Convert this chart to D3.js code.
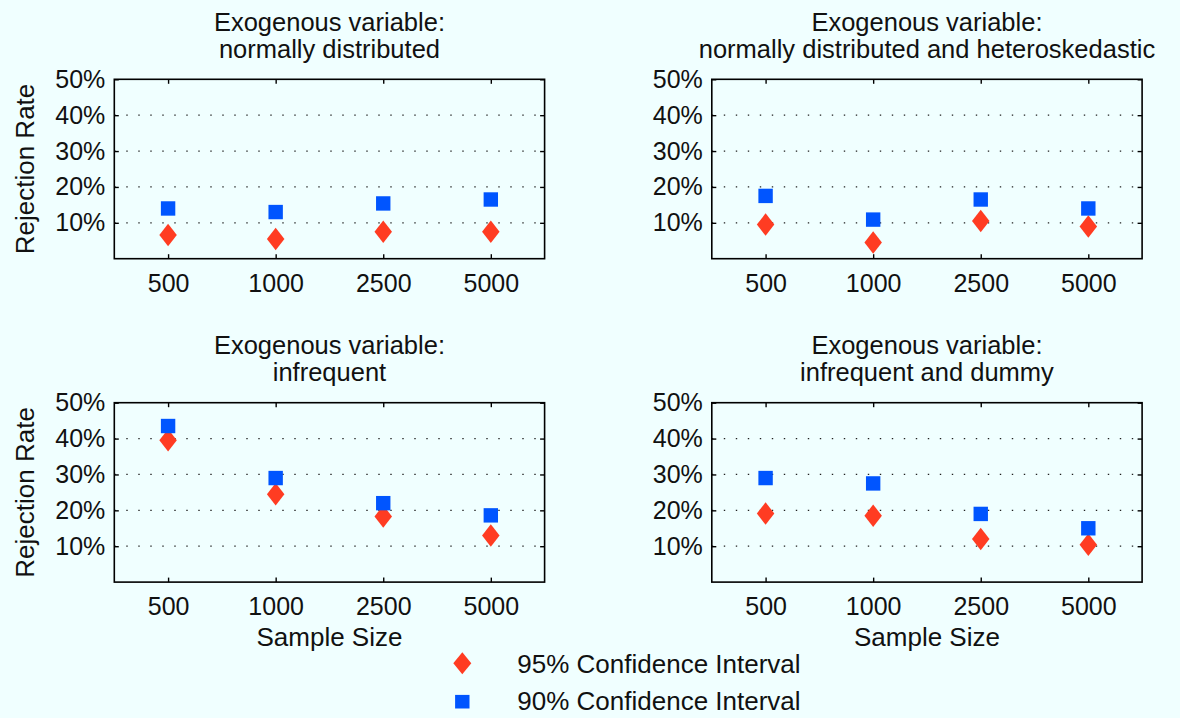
<!DOCTYPE html>
<html>
<head>
<meta charset="utf-8">
<script src="https://cdn.jsdelivr.net/npm/d3@7"></script>
<style>
  html, body { margin: 0; padding: 0; background: #f0ffff; }
  svg { display: block; }
  text { font-family: "Liberation Sans", Arial, Helvetica, sans-serif; fill: #111; }
</style>
</head>
<body>
<svg id="chart" width="1180" height="718"></svg>
<script>
// Sample sizes on the x axis
const sampleSizes = ["500", "1000", "2500", "5000"];
// Y axis ticks (rejection rate)
const rateTicks = [0.1, 0.2, 0.3, 0.4, 0.5];

// Panel titles (two lines each)
const titleLine1 = ["Exogenous variable:", "Exogenous variable:", "Exogenous variable:", "Exogenous variable:"];
const titleLine2 = ["normally distributed", "normally distributed and heteroskedastic", "infrequent", "infrequent and dummy"];

// Rejection rates, 95% confidence interval
const normal95 = [0.066, 0.055, 0.075, 0.075];
const hetero95 = [0.095, 0.045, 0.105, 0.090];
const infreq95 = [0.395, 0.245, 0.183, 0.130];
const dummy95  = [0.191, 0.185, 0.120, 0.104];

// Rejection rates, 90% confidence interval
const normal90 = [0.140, 0.130, 0.154, 0.165];
const hetero90 = [0.175, 0.109, 0.165, 0.140];
const infreq90 = [0.435, 0.290, 0.220, 0.186];
const dummy90  = [0.290, 0.275, 0.190, 0.150];

const legendLabels = ["95% Confidence Interval", "90% Confidence Interval"];

const series95 = [normal95, hetero95, infreq95, dummy95];
const series90 = [normal90, hetero90, infreq90, dummy90];

const RED = "#ff3c22";
const BLUE = "#0055ff";
const TICK_FONT = 25;
const TITLE_FONT = 25.5;
const LABEL_FONT = 26;

const svg = d3.select("#chart");

// Panel layout: 2 x 2
const panelW = 430.3, panelH = 179.4;
const panelX = [114.3, 711.8];
const panelY = [79.3, 402.7];

// Diamond marker (taller than wide) and square marker
function diamondPath(w, h) {
  return `M0,${-h / 2}L${w / 2},0L0,${h / 2}L${-w / 2},0Z`;
}
const DIAMOND = diamondPath(17.5, 22.5);
const SQ = 14.4;

const x = d3.scalePoint().domain(sampleSizes).range([0, panelW]).padding(0.5);
const y = d3.scaleLinear().domain([0, 0.5]).range([panelH, 0]);

for (let p = 0; p < 4; p++) {
  const col = p % 2, row = Math.floor(p / 2);
  const g = svg.append("g")
    .attr("transform", `translate(${panelX[col]},${panelY[row]})`);

  // dotted grid
  g.append("g").selectAll("line")
    .data(rateTicks.filter(d => d < 0.5))
    .join("line")
    .attr("x1", 0).attr("x2", panelW)
    .attr("y1", d => y(d)).attr("y2", d => y(d))
    .attr("stroke", "#222")
    .attr("stroke-width", 1.3)
    .attr("stroke-dasharray", "1.4,10.6");

  // axes with inward ticks
  const left = g.append("g")
    .call(d3.axisLeft(y).tickValues(rateTicks).tickFormat(d3.format(".0%"))
      .tickSize(-4.5).tickPadding(9));
  const right = g.append("g").attr("transform", `translate(${panelW},0)`)
    .call(d3.axisRight(y).tickValues(rateTicks).tickFormat("").tickSize(-4.5));
  const top = g.append("g")
    .call(d3.axisTop(x).tickFormat("").tickSize(-4.5));
  const bottom = g.append("g").attr("transform", `translate(0,${panelH})`)
    .call(d3.axisBottom(x).tickSize(-4.5).tickPadding(15.3));

  [left, right, top, bottom].forEach(a => {
    a.select(".domain").remove();
    a.selectAll(".tick line").attr("stroke", "#000").attr("stroke-width", 1.4);
    a.selectAll("text")
      .attr("font-size", TICK_FONT)
      .attr("font-family", "'Liberation Sans', Arial, sans-serif")
      .attr("fill", "#111");
  });

  // frame
  g.append("rect")
    .attr("width", panelW).attr("height", panelH)
    .attr("fill", "none").attr("stroke", "#000").attr("stroke-width", 1.6);

  // 95% markers
  g.append("g").selectAll("path")
    .data(series95[p])
    .join("path")
    .attr("d", DIAMOND)
    .attr("transform", (d, i) => `translate(${x(sampleSizes[i])},${y(d)})`)
    .attr("fill", RED);

  // 90% markers
  g.append("g").selectAll("rect")
    .data(series90[p])
    .join("rect")
    .attr("x", (d, i) => x(sampleSizes[i]) - SQ / 2)
    .attr("y", d => y(d) - SQ / 2)
    .attr("width", SQ).attr("height", SQ)
    .attr("fill", BLUE);

  // titles
  g.append("text")
    .attr("x", panelW / 2).attr("y", 31 - panelY[0])
    .attr("text-anchor", "middle").attr("font-size", TITLE_FONT)
    .text(titleLine1[p]);
  g.append("text")
    .attr("x", panelW / 2).attr("y", 58 - panelY[0])
    .attr("text-anchor", "middle").attr("font-size", TITLE_FONT)
    .text(titleLine2[p]);

  // y label on left column
  if (col === 0) {
    g.append("text")
      .attr("transform", `translate(${34 - panelX[0]},${panelH / 2}) rotate(-90)`)
      .attr("text-anchor", "middle").attr("font-size", LABEL_FONT)
      .text("Rejection Rate");
  }
  // x label on bottom row
  if (row === 1) {
    g.append("text")
      .attr("x", panelW / 2).attr("y", panelH + 63.7)
      .attr("text-anchor", "middle").attr("font-size", LABEL_FONT)
      .text("Sample Size");
  }
}

// legend
const legend = svg.append("g");
legend.append("path")
  .attr("d", diamondPath(18, 22))
  .attr("transform", "translate(462.3,663.3)")
  .attr("fill", RED);
legend.append("rect")
  .attr("x", 462.3 - 7.2).attr("y", 701.7 - 6.8)
  .attr("width", 14.4).attr("height", 13.6)
  .attr("fill", BLUE);
legend.selectAll("text.lg")
  .data(legendLabels)
  .join("text")
  .attr("class", "lg")
  .attr("x", 517.3)
  .attr("y", (d, i) => 673.3 + i * 37)
  .attr("font-size", LABEL_FONT)
  .text(d => d);
</script>
</body>
</html>
